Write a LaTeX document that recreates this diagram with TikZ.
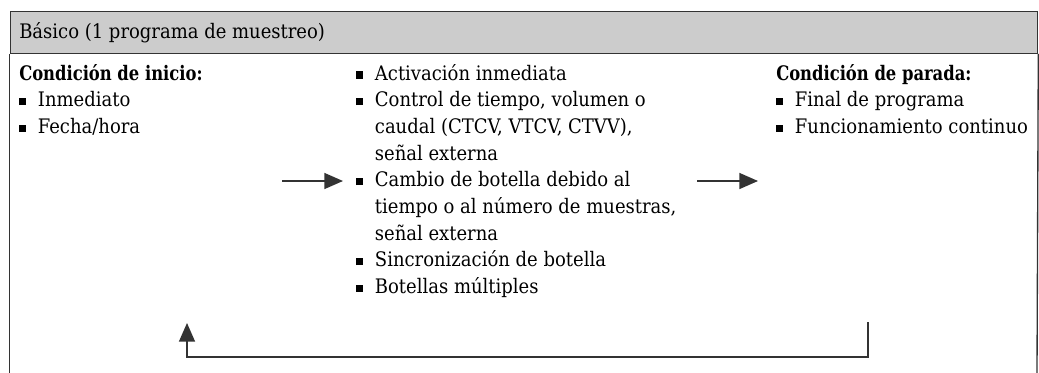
\documentclass[tikz,border=0pt]{standalone}
\usepackage{fontspec}
\setmainfont{DejaVu Serif Condensed}
\usepackage{tikz}
\usetikzlibrary{calc,positioning,arrows.meta}
\definecolor{headgray}{HTML}{CCCCCC}
\definecolor{linegray}{HTML}{333333}
\newcommand{\bul}{\makebox[14pt][l]{\raisebox{1.3pt}{\rule{5pt}{5.4pt}}}}
\newcommand{\ind}{\hspace*{14pt}}
\newcommand{\hd}[1]{\scalebox{0.91}[1]{\textbf{#1}}}

\begin{document}
\begin{tikzpicture}[
    x=0.75pt, y=-0.75pt,
    font=\fontsize{15}{20}\selectfont,
    head/.style={draw=linegray, line width=1pt, fill=headgray, anchor=north west, minimum width=770.6pt, minimum height=31.5pt, inner sep=0pt},
    col/.style={anchor=north west, align=left, inner sep=0pt},
    frame/.style={draw=linegray, line width=1pt},
    arrow/.style={-{Triangle[length=14pt, width=12pt]}, line width=1.1pt, draw=linegray}
  ]
    \useasboundingbox (0,0) rectangle (1039,372);
    \node[head] (head) at (9.5,10.5) {};
    \node[anchor=base west, inner sep=0pt] (title) at (19,38) {Básico (1 programa de muestreo)};
    \node[col] (start) at (19,61.3) {\strut\hd{Condición de inicio:}\\\bul Inmediato\\\bul Fecha/hora};
    \node[col] (mid) at (356,61.3) {\strut\bul Activación inmediata\\\bul Control de tiempo, volumen o\\\ind caudal (CTCV, VTCV, CTVV),\\\ind señal externa\\\bul Cambio de botella debido al\\\ind tiempo o al número de muestras,\\\ind señal externa\\\bul Sincronización de botella\\\bul Botellas múltiples};
    \node[col] (stop) at (776,61.3) {\strut\hd{Condición de parada:}\\\bul Final de programa\\\bul Funcionamiento continuo};

    \coordinate (bl) at (9.5,373);
    \coordinate (br) at (1037,373);
    \draw[frame] (head.south west) -- (bl);
    \draw[frame] (head.south east) -- (br);

    \coordinate (a1) at (282,181);
    \coordinate (b1) at (343,181);
    \coordinate (a2) at (697,181);
    \coordinate (b2) at (758,181);
    \draw[arrow] (a1) -- (b1);
    \draw[arrow] (a2) -- (b2);

    \coordinate (loopr) at (868,322);
    \coordinate (loopl) at (187,323);
    \draw[arrow] (loopr) -- ++(0,35) -| (loopl);
  \end{tikzpicture}
\end{document}
